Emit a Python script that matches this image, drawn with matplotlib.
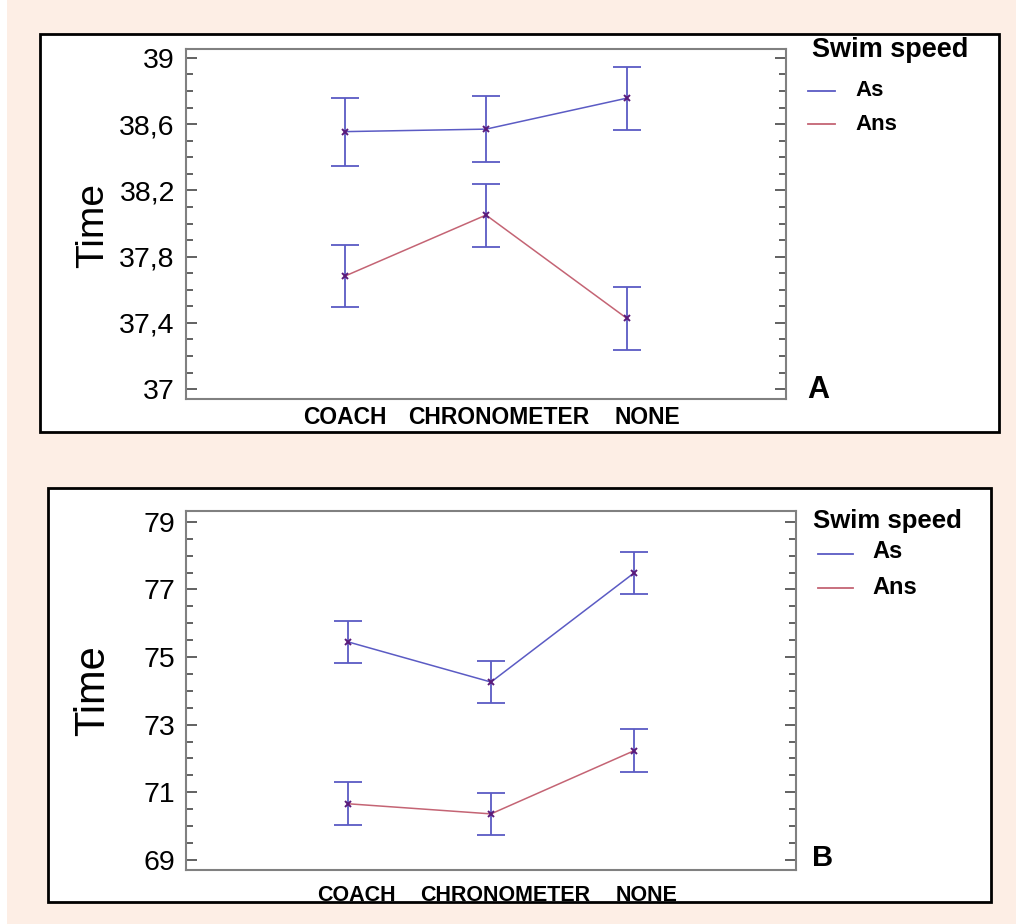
import matplotlib.pyplot as plt
from matplotlib.patches import Rectangle
from matplotlib.ticker import MultipleLocator, FuncFormatter
from matplotlib.transforms import ScaledTranslation

categories = ['COACH', 'CHRONOMETER', 'NONE']
series = ['As', 'Ans']

# panel A
a_as = [38.555, 38.57, 38.757]
a_as_err = [0.205, 0.2, 0.19]
a_ans = [37.683, 38.051, 37.427]
a_ans_err = [0.19, 0.19, 0.19]

# panel B
b_as = [75.45, 74.26, 77.49]
b_as_err = [0.62, 0.63, 0.63]
b_ans = [70.66, 70.36, 72.23]
b_ans_err = [0.63, 0.62, 0.63]

W, H = 1016, 924
peach = '#fdeee5'
blue = '#5b5bc4'
red = '#c46474'
mark = '#5a1a7a'
plt.rcParams['font.family'] = ['Liberation Sans', 'DejaVu Sans']

fig = plt.figure(figsize=(W / 100, H / 100), dpi=100, facecolor=peach)


def fx(x):
    return x / W


def fy(y):
    return 1 - y / H


# white strip on the left edge
fig.patches.append(Rectangle((0, 0), fx(7), 1, transform=fig.transFigure,
                             facecolor='white', edgecolor='none', zorder=-2))
# frames around both panels
for x0, y0, x1, y1 in [(40, 34, 999, 432), (48, 488, 991, 902)]:
    fig.patches.append(Rectangle((fx(x0), fy(y1)), fx(x1) - fx(x0), fy(y0) - fy(y1),
                                 transform=fig.transFigure, facecolor='white',
                                 edgecolor='black', linewidth=2, zorder=-1))


def comma(v, pos):
    s = ('%.1f' % v).rstrip('0').rstrip('.')
    return s.replace('.', ',')


def panel(rect, ylim, major, offset, minor, s_as, e_as, s_ans, e_ans, xpad, shifts, xfs):
    ax = fig.add_axes(rect, zorder=1)
    x = range(len(categories))
    ax.plot(x, s_as, color=blue, lw=1.1, zorder=2)
    ax.plot(x, s_ans, color=red, lw=1.1, zorder=2)
    ax.errorbar(x, s_as, yerr=e_as, fmt='none', ecolor=blue, elinewidth=1.3,
                capsize=10, capthick=1.3, zorder=3)
    ax.errorbar(x, s_ans, yerr=e_ans, fmt='none', ecolor=blue, elinewidth=1.3,
                capsize=10, capthick=1.3, zorder=3)
    ax.plot(x, s_as, ls='none', marker='x', ms=4, mew=1.4, color=mark, zorder=4)
    ax.plot(x, s_ans, ls='none', marker='x', ms=4, mew=1.4, color=mark, zorder=4)
    ax.set_xlim(1 - 2.13, 1 + 2.13)
    ax.set_ylim(*ylim)
    ax.set_xticks(list(x))
    ax.set_xticklabels(categories, fontsize=xfs, fontweight='bold')
    ax.tick_params(axis='x', length=0, pad=xpad)
    for lab, dx in zip(ax.get_xticklabels(), shifts):
        lab.set_transform(lab.get_transform() + ScaledTranslation(dx / 100, 0, fig.dpi_scale_trans))
    ax.yaxis.set_major_locator(MultipleLocator(major, offset=offset))
    ax.yaxis.set_minor_locator(MultipleLocator(minor))
    ax.yaxis.set_major_formatter(FuncFormatter(comma))
    ax.tick_params(axis='y', which='both', direction='in', left=True, right=True,
                   color='#555555', width=1.3, labelsize=20.5, pad=8)
    ax.tick_params(axis='y', which='major', length=8)
    ax.tick_params(axis='y', which='minor', length=5)
    for sp in ax.spines.values():
        sp.set_color('#808080')
        sp.set_linewidth(1.5)
    return ax


panel([fx(186), fy(399), fx(786) - fx(186), fy(49) - fy(399)], (36.94, 39.054),
      0.4, 0.2, 0.1, a_as, a_as_err, a_ans, a_ans_err, 5, [0, 13, 21], 16.5)
panel([fx(186), fy(870), fx(796) - fx(186), fy(511) - fy(870)], (68.70, 79.32),
      2, 1, 0.5, b_as, b_as_err, b_ans, b_ans_err, 11, [9, 14, 12], 15.5)

# y labels
fig.text(fx(93), fy(225), 'Time', rotation=90, fontsize=28, ha='center', va='center')
fig.text(fx(93), fy(691), 'Time', rotation=90, fontsize=30, ha='center', va='center')

# legends and panel letters
fig.text(fx(812), fy(50), 'Swim speed', fontsize=19.5, fontweight='bold', va='center')
fig.lines.append(plt.Line2D([fx(808), fx(835)], [fy(91), fy(91)], color=blue, lw=1.3,
                            transform=fig.transFigure))
fig.lines.append(plt.Line2D([fx(808), fx(835)], [fy(124), fy(124)], color=red, lw=1.3,
                            transform=fig.transFigure))
fig.text(fx(855), fy(91), series[0], fontsize=16, fontweight='bold', va='center')
fig.text(fx(855), fy(124), series[1], fontsize=16, fontweight='bold', va='center')
fig.text(fx(807), fy(390), 'A', fontsize=22, fontweight='bold', va='center')

fig.text(fx(813), fy(521), 'Swim speed', fontsize=18.5, fontweight='bold', va='center')
fig.lines.append(plt.Line2D([fx(818), fx(853)], [fy(554), fy(554)], color=blue, lw=1.3,
                            transform=fig.transFigure))
fig.lines.append(plt.Line2D([fx(818), fx(853)], [fy(588), fy(588)], color=red, lw=1.3,
                            transform=fig.transFigure))
fig.text(fx(872), fy(552), series[0], fontsize=17, fontweight='bold', va='center')
fig.text(fx(872), fy(587), series[1], fontsize=17, fontweight='bold', va='center')
fig.text(fx(812), fy(858), 'B', fontsize=21, fontweight='bold', va='center')

fig.savefig('out.png', dpi=100, facecolor=peach)
